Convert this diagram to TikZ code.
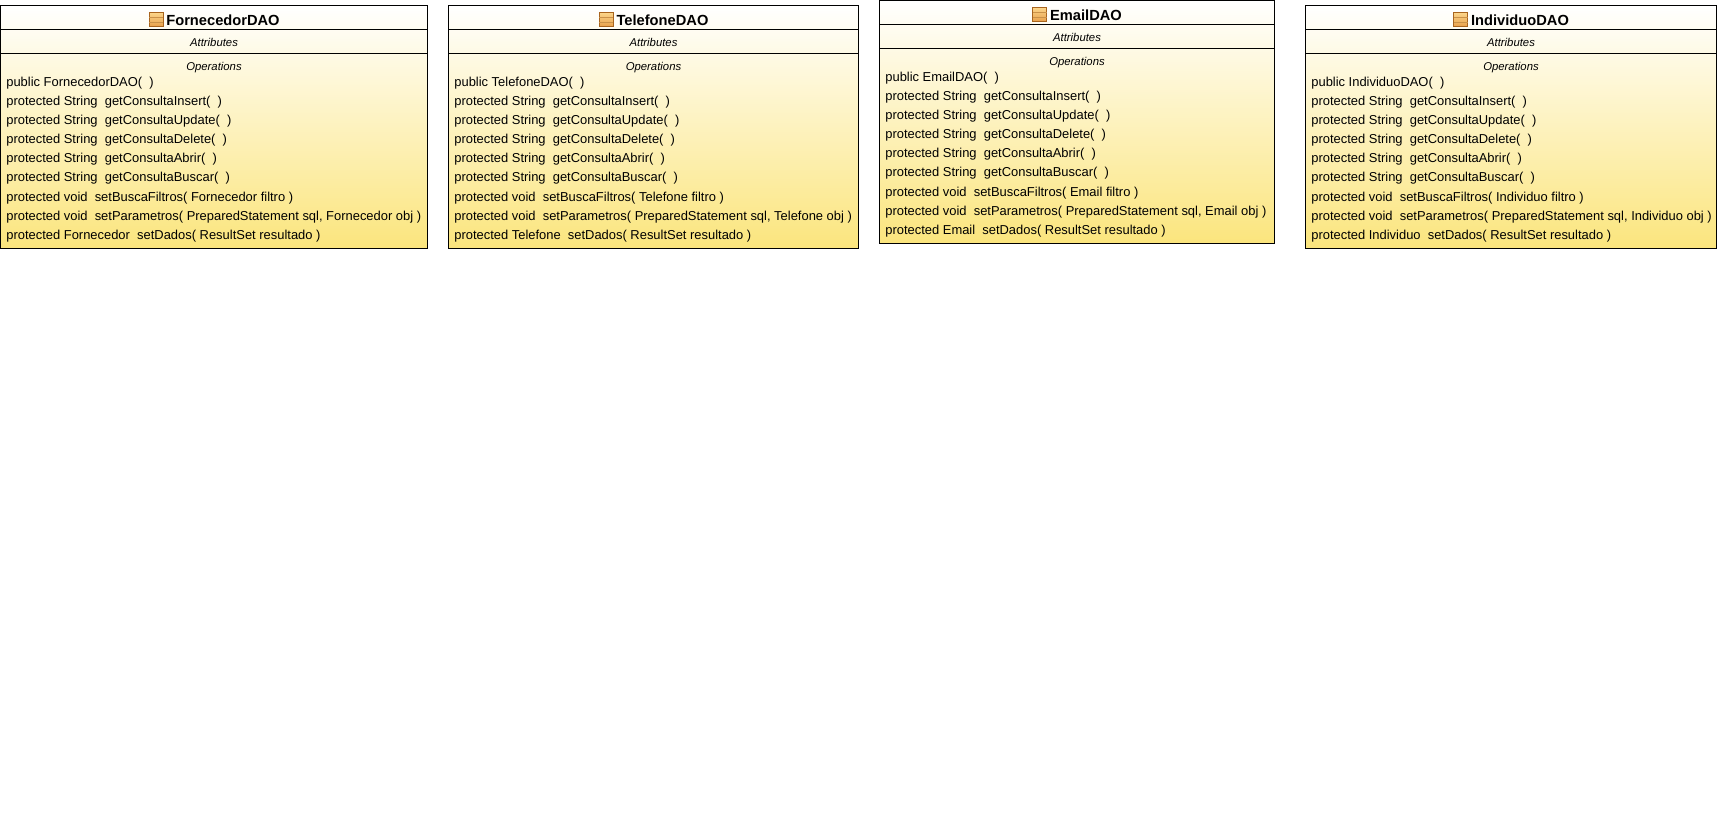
\documentclass[tikz,border=0pt]{standalone}
\usepackage{fontspec}
\setmainfont{Liberation Sans}
\usetikzlibrary{calc}
\definecolor{umlbot}{HTML}{FBE57D}
\definecolor{umlline}{HTML}{000000}
\definecolor{iconhi}{HTML}{FBD58A}
\definecolor{iconlo}{HTML}{E8A04A}
\definecolor{iconedge}{HTML}{A8641E}
\tikzset{
  x=0.75pt,y=-0.75pt,
  classbody/.style={draw=umlline,line width=0.75pt,inner sep=0,outer sep=0,anchor=north west,top color=white,bottom color=umlbot,middle color=umlbot!50!white},
  sep/.style={draw=umlline,line width=0.75pt},
  title/.style={font=\fontsize{11pt}{13pt}\selectfont\bfseries,inner sep=0},
  section/.style={font=\fontsize{8.5pt}{10pt}\selectfont\itshape,inner sep=0},
  member/.style={font=\fontsize{9.7pt}{11pt}\selectfont,inner sep=0,anchor=west},
  iconbox/.style={draw=iconedge,line width=0.75pt,top color=iconhi,bottom color=iconlo,minimum width=10.5pt,minimum height=10.5pt,inner sep=0,outer sep=0,anchor=east},
  iconline/.style={draw=iconedge!60!iconhi,line width=0.5pt},
}
% #1 name, #2 x, #3 y, #4 width, #5 title, #6 entity type
\newcommand{\classbox}[6]{%
  \node[classbody,minimum width=#4*0.75pt,minimum height=243*0.75pt] (#1) at (#2,#3) {};
  \node[title] (#1t) at ($(#1.north)+(9,14.6)$) {#5};
  \node[iconbox,xshift=-2.2pt,yshift=0.3pt] (#1i) at (#1t.west) {};
  \draw[iconline] ($(#1i.west)+(0,-1.8pt)$) -- ($(#1i.east)+(0,-1.8pt)$);
  \draw[iconline] ($(#1i.west)+(0,1.8pt)$) -- ($(#1i.east)+(0,1.8pt)$);
  \draw[sep] ($(#1.north west)+(0,24)$) -- ($(#1.north east)+(0,24)$);
  \draw[sep] ($(#1.north west)+(0,48)$) -- ($(#1.north east)+(0,48)$);
  \node[section] (#1a) at ($(#1.north)+(0,36.5)$) {Attributes};
  \node[section] (#1o) at ($(#1.north)+(0,62)$) {Operations};
  \coordinate (#1l) at ($(#1.north west)+(5.6,0)$);
  \node[member] at ($(#1l)+(0,77.6)$) {public #5(\ \ )};
  \node[member] at ($(#1l)+(0,96.7)$) {protected String\ \ getConsultaInsert(\ \ )};
  \node[member] at ($(#1l)+(0,115.8)$) {protected String\ \ getConsultaUpdate(\ \ )};
  \node[member] at ($(#1l)+(0,134.9)$) {protected String\ \ getConsultaDelete(\ \ )};
  \node[member] at ($(#1l)+(0,154)$) {protected String\ \ getConsultaAbrir(\ \ )};
  \node[member] at ($(#1l)+(0,173.1)$) {protected String\ \ getConsultaBuscar(\ \ )};
  \node[member] at ($(#1l)+(0,192.2)$) {protected void\ \ setBuscaFiltros( #6 filtro )};
  \node[member] at ($(#1l)+(0,211.3)$) {protected void\ \ setParametros( PreparedStatement sql, #6 obj )};
  \node[member] at ($(#1l)+(0,230.4)$) {protected #6\ \ setDados( ResultSet resultado )};
}
\begin{document}
\begin{tikzpicture}
\useasboundingbox (0,0) rectangle (1717,838);
\fill[white] (0,0) rectangle (1717,838);
\classbox{forn}{0.5}{5.5}{427}{FornecedorDAO}{Fornecedor}
\classbox{tele}{448.5}{5.5}{410}{TelefoneDAO}{Telefone}
\classbox{mail}{879.5}{0.5}{395}{EmailDAO}{Email}
\classbox{indi}{1305.5}{5.5}{411}{IndividuoDAO}{Individuo}
\end{tikzpicture}
\end{document}
